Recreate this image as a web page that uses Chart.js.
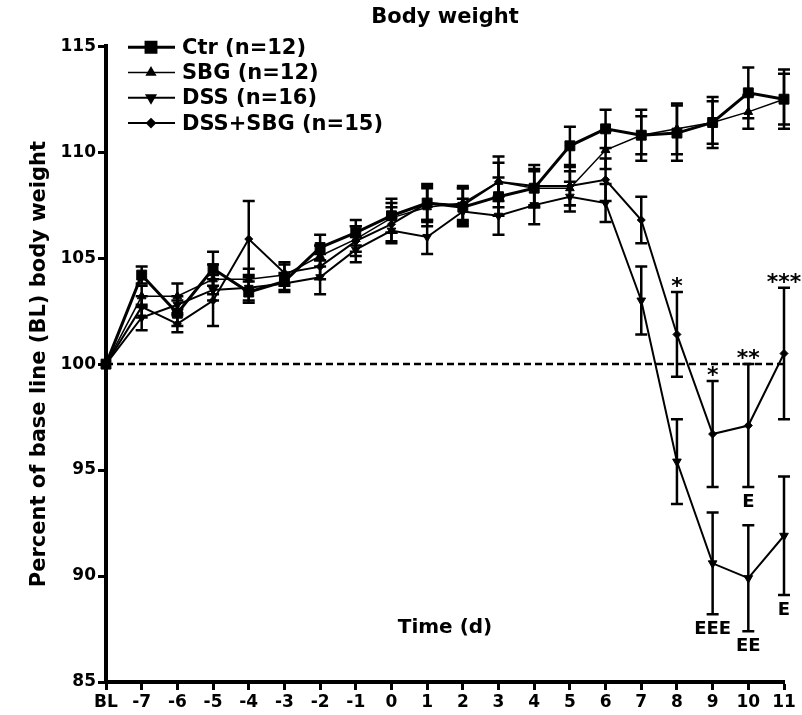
<!DOCTYPE html>
<html>
<head>
<meta charset="utf-8">
<script src="https://cdn.jsdelivr.net/npm/chart.js@4.4.1/dist/chart.umd.min.js"></script>
<style>
  body { margin: 0; background: #fff; }
  canvas { display: block; }
</style>
</head>
<body>
<canvas id="bw" width="802" height="715"></canvas>
<script>
// time points (BL = base line, then days)
const timeLabels = ["BL", "-7", "-6", "-5", "-4", "-3", "-2", "-1", "0", "1", "2", "3", "4", "5", "6", "7", "8", "9", "10", "11"];

// mean % of base line body weight per group
const ctrMean    = [100, 104.2, 102.4, 104.5, 103.4, 103.9, 105.5, 106.2, 107.0, 107.6, 107.4, 107.9, 108.3, 110.3, 111.1, 110.8, 110.9, 111.4, 112.8, 112.5];
const sbgMean    = [100, 103.2, 103.2, 104.0, 104.0, 104.2, 105.1, 105.9, 106.9, 107.4, 107.6, 108.6, 108.3, 108.3, 110.1, 110.8, 111.1, 111.4, 111.9, 112.5];
const dssMean    = [100, 102.2, 102.8, 103.5, 103.6, 103.8, 104.1, 105.4, 106.3, 106.0, 107.2, 107.0, 107.5, 107.9, 107.6, 103.0, 95.4, 90.6, 89.9, 91.9];
const dssSbgMean = [100, 102.7, 101.9, 103.0, 105.9, 104.3, 104.6, 105.8, 106.6, 107.6, 107.5, 108.6, 108.4, 108.4, 108.7, 106.8, 101.4, 96.7, 97.1, 100.5];

// SEM
const ctrErr    = [0, 0.4, 0.6, 0.8, 0.5, 0.4, 0.6, 0.6, 0.8, 0.9, 0.9, 0.9, 0.9, 0.9, 0.9, 1.2, 1.3, 1.2, 1.2, 1.4];
const sbgErr    = [0, 0.5, 0.6, 0.7, 0.5, 0.5, 0.5, 0.6, 0.7, 0.9, 0.8, 0.9, 0.8, 0.8, 0.9, 0.9, 1.2, 1.0, 0.8, 1.2];
const dssErr    = [0, 0.6, 0.4, 0.5, 0.6, 0.4, 0.8, 0.6, 0.6, 0.8, 0.6, 0.9, 0.9, 0.7, 0.9, 1.6, 2.0, 2.4, 2.5, 2.8];
const dssSbgErr = [0, 0.5, 0.4, 1.2, 1.8, 0.5, 0.6, 0.7, 0.8, 0.8, 0.8, 1.2, 1.0, 0.9, 1.0, 1.1, 2.0, 2.5, 2.9, 3.1];

// significance marks: stars above DSS+SBG, E's below
const starIdx  = [16, 17, 18, 19];
const starText = ["*", "*", "**", "***"];
const eSbgIdx  = [18];
const eSbgText = ["E"];
const eDssIdx  = [17, 18, 19];
const eDssText = ["EEE", "EE", "E"];

const yTicks = [85, 90, 95, 100, 105, 110, 115];
const baseLine = 100;

const FONT = "'DejaVu Sans', sans-serif";

const errorBars = {
  id: "errorBars",
  afterDatasetsDraw(chart) {
    const { ctx, scales: { x, y } } = chart;
    ctx.save();
    ctx.strokeStyle = "#000";
    ctx.lineWidth = 2.5;
    chart.data.datasets.forEach(ds => {
      ds.data.forEach((v, i) => {
        const e = ds.errors[i];
        if (!e) return;
        const px = x.getPixelForValue(i);
        const t = y.getPixelForValue(v + e), b = y.getPixelForValue(v - e);
        ctx.beginPath();
        ctx.moveTo(px, t); ctx.lineTo(px, b);
        ctx.moveTo(px - 6, t); ctx.lineTo(px + 6, t);
        ctx.moveTo(px - 6, b); ctx.lineTo(px + 6, b);
        ctx.stroke();
      });
    });
    ctx.restore();
  }
};

const extras = {
  id: "extras",
  beforeDatasetsDraw(chart) {
    const { ctx, chartArea: a, scales: { y } } = chart;
    const py = y.getPixelForValue(baseLine);
    ctx.save();
    ctx.strokeStyle = "#000";
    ctx.lineWidth = 2.5;
    ctx.setLineDash([7, 4]);
    ctx.beginPath();
    ctx.moveTo(a.left, py); ctx.lineTo(a.right, py);
    ctx.stroke();
    ctx.restore();
  },
  afterDraw(chart) {
    const { ctx, chartArea: a, scales: { x, y } } = chart;
    ctx.save();
    ctx.fillStyle = "#000";
    ctx.textAlign = "center";

    // stars
    ctx.font = "bold 22px " + FONT;
    ctx.textBaseline = "alphabetic";
    starIdx.forEach((i, k) => {
      const top = y.getPixelForValue(dssSbgMean[i] + dssSbgErr[i]);
      ctx.fillText(starText[k], x.getPixelForValue(i), top + 1);
    });

    // E labels
    ctx.font = "bold 18px " + FONT;
    ctx.textBaseline = "top";
    eSbgIdx.forEach((i, k) => {
      const bot = y.getPixelForValue(dssSbgMean[i] - dssSbgErr[i]);
      ctx.fillText(eSbgText[k], x.getPixelForValue(i), bot + 6);
    });
    eDssIdx.forEach((i, k) => {
      const bot = y.getPixelForValue(dssMean[i] - dssErr[i]);
      ctx.fillText(eDssText[k], x.getPixelForValue(i), bot + 6);
    });

    // x title sits inside the plot
    ctx.font = "bold 20px " + FONT;
    ctx.textBaseline = "middle";
    ctx.fillText("Time (d)", (a.left + a.right) / 2, a.bottom - 54);

    // legend
    ctx.textAlign = "left";
    ctx.font = "bold 21px " + FONT;
    chart.data.datasets.forEach((ds, k) => {
      const ly = a.top + 1 + 25.3 * k;
      ctx.strokeStyle = "#000";
      ctx.lineWidth = ds.borderWidth;
      ctx.beginPath();
      ctx.moveTo(a.left + 22, ly); ctx.lineTo(a.left + 69, ly);
      ctx.stroke();
      ctx.fillStyle = "#000";
      Chart.helpers.drawPoint(ctx, {
        pointStyle: ds.pointStyle, radius: ds.pointRadius,
        rotation: ds.pointRotation || 0, borderWidth: 1
      }, a.left + 45, ly);
      ctx.fillText(ds.label, a.left + 76, ly + 1);
    });
    ctx.restore();
  }
};

function series(label, data, errors, style, radius, width, rot) {
  return {
    label, data, errors,
    borderColor: "#000", backgroundColor: "#000",
    pointBackgroundColor: "#000", pointBorderColor: "#000",
    borderWidth: width, pointStyle: style, pointRadius: radius,
    pointRotation: rot || 0, pointBorderWidth: 1,
    tension: 0, clip: false
  };
}

new Chart(document.getElementById("bw"), {
  type: "line",
  data: {
    labels: timeLabels,
    datasets: [
      series("Ctr (n=12)", ctrMean, ctrErr, "rect", 7, 3),
      series("SBG (n=12)", sbgMean, sbgErr, "triangle", 5, 1.5),
      series("DSS (n=16)", dssMean, dssErr, "triangle", 5, 2, 180),
      series("DSS+SBG (n=15)", dssSbgMean, dssSbgErr, "rectRot", 4, 2)
    ]
  },
  options: {
    responsive: false,
    devicePixelRatio: 1,
    animation: false,
    layout: { padding: { left: 0, right: 18, top: 0, bottom: 0 } },
    plugins: {
      legend: { display: false },
      tooltip: { enabled: false },
      title: {
        display: true, text: "Body weight", color: "#000", fullSize: false,
        font: { family: FONT, size: 21, weight: "bold" },
        padding: { top: 5, bottom: 16 }
      }
    },
    scales: {
      x: {
        type: "category",
        offset: false,
        afterFit(s) { s.height = 33; },
        border: { display: true, color: "#000", width: 4 },
        grid: { drawOnChartArea: false, drawTicks: true, tickLength: 8, tickWidth: 3, tickColor: "#000", color: "#000" },
        ticks: { color: "#000", autoSkip: false, maxRotation: 0, padding: 2, font: { family: FONT, size: 17, weight: "bold" } }
      },
      y: {
        min: 85, max: 115,
        afterFit(s) { s.width = 106; },
        afterBuildTicks(s) { s.ticks = yTicks.map(v => ({ value: v })); },
        border: { display: true, color: "#000", width: 4 },
        grid: { drawOnChartArea: false, drawTicks: true, tickLength: 8, tickWidth: 3, tickColor: "#000", color: "#000" },
        ticks: { color: "#000", padding: 2, font: { family: FONT, size: 17, weight: "bold" } },
        title: {
          display: true, text: "Percent of base line (BL) body weight", color: "#000",
          font: { family: FONT, size: 21, weight: "bold" },
          padding: { top: 27, bottom: 0 }
        }
      }
    }
  },
  plugins: [errorBars, extras]
});
</script>
</body>
</html>
